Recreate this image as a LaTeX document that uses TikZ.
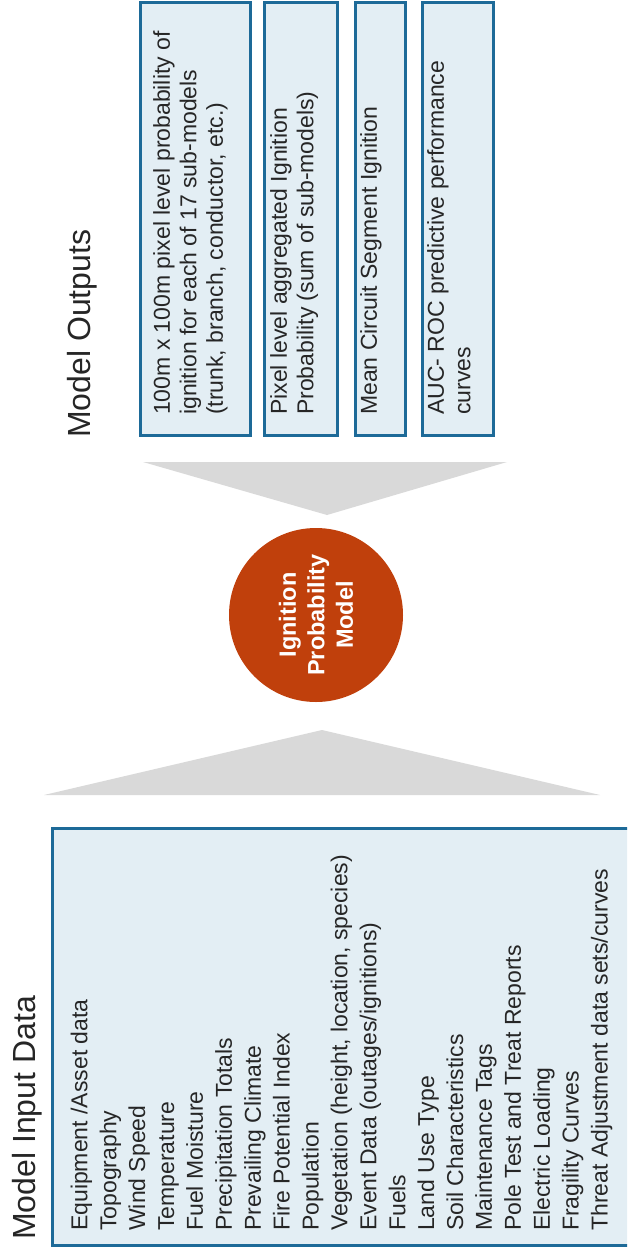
\documentclass[tikz,border=0pt]{standalone}
\usepackage{fontspec}
\setmainfont{Liberation Sans}
\usepackage{tikz}
\definecolor{boxfill}{RGB}{227,238,244}
\definecolor{boxedge}{RGB}{29,106,152}
\definecolor{funnel}{RGB}{217,217,217}
\definecolor{ignite}{RGB}{192,64,12}
\definecolor{ink}{RGB}{38,38,38}

\begin{document}
\begin{tikzpicture}[x=1pt,y=-1pt,every node/.style={text=ink,inner sep=0pt},
 outbox/.style={draw=boxedge,line width=3pt,fill=boxfill,minimum height=432pt},
 headtxt/.style={rotate=90,anchor=base west,font=\fontsize{32}{38}\selectfont},
 listtxt/.style={rotate=90,anchor=north west,align=left,font=\fontsize{23}{26.5}\selectfont}]
\useasboundingbox (0,0) rectangle (627,1249);
\clip (0,0) rectangle (627,1249);
% inputs
\node[outbox,minimum width=590pt,minimum height=417pt] (inbox) at (347,1036.5) {};
\node[headtxt] (intitle) at (35,1240) {Model Input Data};
\node[listtxt,font=\fontsize{23}{28.9}\selectfont] (inlist) at (70.5,1231) {Equipment /Asset data\\Topography\\Wind Speed\\Temperature\\Fuel Moisture\\Precipitation Totals\\Prevailing Climate\\Fire Potential Index\\Population\\Vegetation (height, location, species)\\Event Data (outages/ignitions)\\Fuels\\Land Use Type\\Soil Characteristics\\Maintenance Tags\\Pole Test and Treat Reports\\Electric Loading\\Fragility Curves\\Threat Adjustment data sets/curves};
\fill[funnel] (44,795) -- (322,730) -- (600,795) -- cycle;
% model
\node[circle,fill=ignite,minimum size=174pt,text=white,align=center,rotate=90,
 font=\bfseries\fontsize{23.5}{28.5}\selectfont] (ipm) at (316,615) {Ignition\\Probability\\Model};
\fill[funnel] (143,462) -- (507,462) -- (327,515) -- cycle;
% outputs
\node[headtxt] (outtitle) at (90,438) {Model Outputs};
\node[outbox,minimum width=110pt] (out1) at (195,219) {};
\node[outbox,minimum width=73pt] (out2) at (300.5,219) {};
\node[outbox,minimum width=50pt] (out3) at (380,219) {};
\node[outbox,minimum width=71pt] (out4) at (457.5,219) {};
\node[listtxt] (res1) at (153,415) {100m x 100m pixel level probability of\\ignition for each of 17 sub-models\\(trunk, branch, conductor, etc.)};
\node[listtxt] (res2) at (270,415) {Pixel level aggregated Ignition\\Probability (sum of sub-models)};
\node[listtxt] (res3) at (360,415) {Mean Circuit Segment Ignition};
\node[listtxt] (res4) at (427,415) {AUC- ROC predictive performance\\curves};
\end{tikzpicture}
\end{document}
